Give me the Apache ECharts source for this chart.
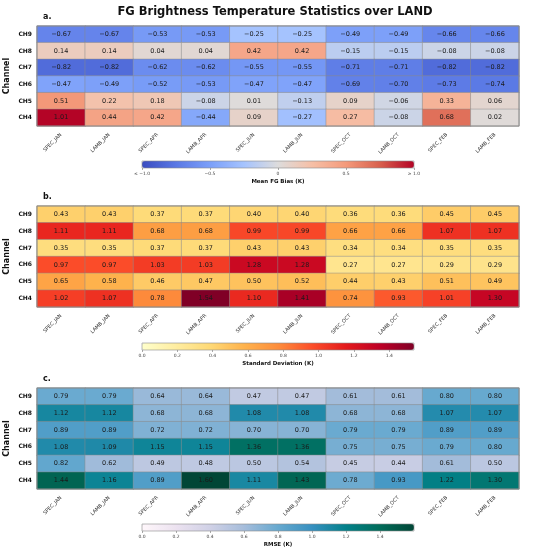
<!DOCTYPE html>
<html lang="en">
<head>
    <meta charset="UTF-8">
    <title>FG Brightness Temperature Statistics over LAND</title>
    <script src="https://cdn.jsdelivr.net/npm/echarts@6/dist/echarts.min.js"></script>
    <style>
        html, body { margin: 0; padding: 0; background: #fff; }
        #main { width: 550px; height: 551px; }
    </style>
</head>
<body>
<div id="main"></div>
<script>
    // 横轴: 实验/月份
    let experiments = ['SPEC_JAN', 'LAMB_JAN', 'SPEC_APR', 'LAMB_APR', 'SPEC_JUN',
        'LAMB_JUN', 'SPEC_OCT', 'LAMB_OCT', 'SPEC_FEB', 'LAMB_FEB'];
    // 纵轴: 通道 (从上到下)
    let channels = ['CH9', 'CH8', 'CH7', 'CH6', 'CH5', 'CH4'];

    // a. 平均FG偏差
    let meanBias = [
        [-0.67, -0.67, -0.53, -0.53, -0.25, -0.25, -0.49, -0.49, -0.66, -0.66],
        [0.14, 0.14, 0.04, 0.04, 0.42, 0.42, -0.15, -0.15, -0.08, -0.08],
        [-0.82, -0.82, -0.62, -0.62, -0.55, -0.55, -0.71, -0.71, -0.82, -0.82],
        [-0.47, -0.49, -0.52, -0.53, -0.47, -0.47, -0.69, -0.70, -0.73, -0.74],
        [0.51, 0.22, 0.18, -0.08, 0.01, -0.13, 0.09, -0.06, 0.33, 0.06],
        [1.01, 0.44, 0.42, -0.44, 0.09, -0.27, 0.27, -0.08, 0.68, 0.02]
    ];
    // b. 标准差
    let stdDev = [
        [0.43, 0.43, 0.37, 0.37, 0.40, 0.40, 0.36, 0.36, 0.45, 0.45],
        [1.11, 1.11, 0.68, 0.68, 0.99, 0.99, 0.66, 0.66, 1.07, 1.07],
        [0.35, 0.35, 0.37, 0.37, 0.43, 0.43, 0.34, 0.34, 0.35, 0.35],
        [0.97, 0.97, 1.03, 1.03, 1.28, 1.28, 0.27, 0.27, 0.29, 0.29],
        [0.65, 0.58, 0.46, 0.47, 0.50, 0.52, 0.44, 0.43, 0.51, 0.49],
        [1.02, 1.07, 0.78, 1.54, 1.10, 1.41, 0.74, 0.93, 1.01, 1.30]
    ];
    // c. RMSE
    let rmse = [
        [0.79, 0.79, 0.64, 0.64, 0.47, 0.47, 0.61, 0.61, 0.80, 0.80],
        [1.12, 1.12, 0.68, 0.68, 1.08, 1.08, 0.68, 0.68, 1.07, 1.07],
        [0.89, 0.89, 0.72, 0.72, 0.70, 0.70, 0.79, 0.79, 0.89, 0.89],
        [1.08, 1.09, 1.15, 1.15, 1.36, 1.36, 0.75, 0.75, 0.79, 0.80],
        [0.82, 0.62, 0.49, 0.48, 0.50, 0.54, 0.45, 0.44, 0.61, 0.50],
        [1.44, 1.16, 0.89, 1.60, 1.11, 1.43, 0.78, 0.93, 1.22, 1.30]
    ];

    // 色标刻度
    let biasTicks = ['≤ −1.0', '−0.5', '0', '0.5', '≥ 1.0'];

    let coolwarm = ['#3b4cc0', '#5a78e4', '#7b9ff9', '#a5c3fe', '#dddcdc', '#f6bfa6', '#f49a7b', '#d8604d', '#b40426'];
    let ylOrRd = ['#ffffcc', '#ffeda0', '#fed976', '#feb24c', '#fd8d3c', '#fc4e2a', '#e31a1c', '#bd0026', '#800026'];
    let puBuGn = ['#fff7fb', '#ece2f0', '#d0d1e6', '#a6bddb', '#67a9cf', '#3690c0', '#02818a', '#016c59', '#014636'];

    let font = 'DejaVu Sans';
    let gridLeft = 37, gridWidth = 482;
    let panels = [
        {tag: 'a.', data: meanBias, top: 26, height: 100, min: -1, max: 1, interval: 0.5,
            colors: coolwarm, cbTop: 161, cbName: 'Mean FG Bias (K)', minus: true},
        {tag: 'b.', data: stdDev, top: 206, height: 101, min: 0, max: 1.54, interval: 0.2,
            colors: ylOrRd, cbTop: 343, cbName: 'Standard Deviation (K)'},
        {tag: 'c.', data: rmse, top: 388, height: 101, min: 0, max: 1.6, interval: 0.2,
            colors: puBuGn, cbTop: 524, cbName: 'RMSE (K)'}
    ];

    let toCells = (rows) => {
        let out = [];
        rows.forEach((row, r) => {
            row.forEach((v, c) => out.push([c, r, v]));
        });
        return out;
    };

    let grid = [], xAxis = [], yAxis = [], series = [], visualMap = [], graphic = [];
    let cbLeft = 142, cbWidth = 272, cbHeight = 7;

    panels.forEach((p, i) => {
        // 热力图网格
        let hi = grid.length;
        grid.push({left: gridLeft, width: gridWidth, top: p.top, height: p.height,
            outerBoundsMode: 'none', containLabel: false,
            show: true, borderColor: '#8a8a8a', borderWidth: 1, z: 3});
        xAxis.push({
            type: 'category', gridIndex: hi, data: experiments,
            axisLine: {show: false}, axisTick: {show: false},
            axisLabel: {rotate: 45, fontSize: 5, fontFamily: font, color: '#333', margin: 8, interval: 0}
        });
        yAxis.push({
            type: 'category', gridIndex: hi, data: channels, inverse: true,
            axisLine: {show: false}, axisTick: {show: false},
            axisLabel: {fontSize: 6, fontWeight: 'bold', fontFamily: font, color: '#111', margin: 5},
            name: 'Channel', nameLocation: 'middle', nameRotate: 90, nameGap: 26,
            nameMoveOverlap: false,
            nameTextStyle: {fontSize: 8, fontWeight: 'bold', fontFamily: font, color: '#111'}
        });
        series.push({
            type: 'heatmap', xAxisIndex: hi, yAxisIndex: hi,
            data: toCells(p.data),
            itemStyle: {borderColor: '#8a8a8a', borderWidth: 0.5},
            label: {
                show: true, fontSize: 6.5, fontFamily: font, color: '#1a1a1a',
                formatter: (o) => {
                    let s = o.value[2].toFixed(2);
                    return p.minus ? s.replace('-', '−') : s;
                }
            },
            emphasis: {disabled: true}
        });

        // 色标
        visualMap.push({
            type: 'continuous', seriesIndex: i, min: p.min, max: p.max,
            orient: 'horizontal', left: cbLeft, top: p.cbTop,
            itemWidth: cbHeight, itemHeight: cbWidth, padding: 0,
            calculable: false, hoverLink: false, text: null, showLabel: false,
            inRange: {color: p.colors}
        });
        // 色标刻度轴
        let gi = grid.length;
        grid.push({left: cbLeft, width: cbWidth, top: p.cbTop, height: cbHeight,
            outerBoundsMode: 'none', containLabel: false,
            show: true, borderColor: '#8a8a8a', borderWidth: 0.6, backgroundColor: 'transparent', z: 10});
        xAxis.push({
            type: 'value', gridIndex: gi, min: p.min, max: p.max, interval: p.interval,
            position: 'bottom', splitLine: {show: false},
            axisLine: {show: false},
            axisTick: {show: true, length: 2, lineStyle: {color: '#555', width: 0.5}},
            axisLabel: {
                fontSize: 4.5, fontFamily: font, color: '#444', margin: 3,
                showMaxLabel: p.minus ? true : false,
                formatter: p.minus
                    ? (v) => biasTicks[Math.round((v - p.min) / p.interval)]
                    : (v) => v.toFixed(1)
            },
            name: p.cbName, nameLocation: 'middle', nameGap: 11, nameMoveOverlap: false,
            nameTextStyle: {fontSize: 5.5, fontWeight: 'bold', fontFamily: font, color: '#111'}
        });
        yAxis.push({type: 'value', gridIndex: gi, show: false});

        graphic.push({
            type: 'text', left: 43, top: p.top - 13,
            style: {text: p.tag, fontSize: 8, fontWeight: 'bold', fontFamily: font, fill: '#111'}
        });
    });

    let myChart = echarts.init(document.getElementById('main'));
    let option = {
        animation: false,
        title: {
            text: 'FG Brightness Temperature Statistics over LAND',
            left: 'center', top: 1,
            textStyle: {fontSize: 11.5, fontWeight: 'bold', fontFamily: font, color: '#111'}
        },
        grid: grid,
        xAxis: xAxis,
        yAxis: yAxis,
        visualMap: visualMap,
        series: series,
        graphic: graphic
    };
    myChart.setOption(option);
</script>
</body>
</html>
